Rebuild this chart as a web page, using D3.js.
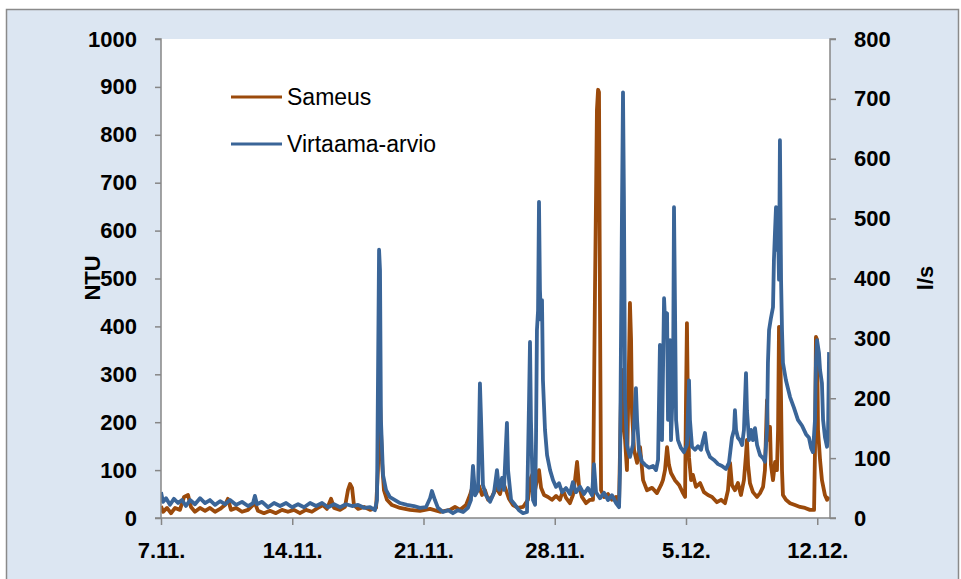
<!DOCTYPE html>
<html>
<head>
<meta charset="utf-8">
<script src="https://cdn.jsdelivr.net/npm/d3@7"></script>
<style>
  html, body { margin: 0; padding: 0; background: #ffffff; }
  svg { display: block; }
  text { font-family: "Liberation Sans", Arial, sans-serif; fill: #000; }
</style>
</head>
<body>
<svg id="chart" width="961" height="579"></svg>
<script>
// ---- data ----
const xTickDays = [0, 7, 14, 21, 28, 35];
const xTickLabels = ["7.11.", "14.11.", "21.11.", "28.11.", "5.12.", "12.12."];
const leftTicks = [0, 100, 200, 300, 400, 500, 600, 700, 800, 900, 1000];
const rightTicks = [0, 100, 200, 300, 400, 500, 600, 700, 800];
const seriesNames = ["Sameus", "Virtaama-arvio"];
const axisTitles = ["NTU", "l/s"];

// Sameus (NTU), [day since 7.11., value]
const sameus = [
[0,25],[0.11,13],[0.32,21],[0.53,10],[0.75,21],[1.01,17],[1.23,44],[1.44,48],[1.6,23],[1.81,13],
[2.08,21],[2.35,15],[2.61,21],[2.88,13],[3.15,19],[3.41,27],[3.57,40],[3.73,17],[4.0,21],[4.32,13],
[4.64,17],[5.01,31],[5.17,15],[5.49,10],[5.81,15],[6.13,10],[6.45,17],[6.77,13],[7.09,17],[7.41,10],
[7.73,17],[8.05,13],[8.37,21],[8.64,27],[8.85,19],[9.07,40],[9.23,21],[9.55,17],[9.81,23],[9.97,58],
[10.08,71],[10.19,63],[10.29,27],[10.51,19],[10.83,23],[11.15,17],[11.47,21],[11.57,100],[11.63,205],[11.68,242],
[11.73,184],[11.79,115],[11.89,58],[12.05,38],[12.32,27],[12.75,21],[13.28,17],[13.81,15],[14.35,19],[14.88,13],
[15.41,17],[15.68,23],[15.95,17],[16.27,27],[16.48,48],[16.64,69],[16.8,52],[16.96,67],[17.12,48],[17.28,58],
[17.44,38],[17.65,44],[17.87,63],[18.08,50],[18.24,75],[18.4,58],[18.56,40],[18.77,27],[19.04,21],[19.31,23],
[19.57,38],[19.73,84],[19.84,94],[19.95,58],[20.05,79],[20.16,100],[20.27,63],[20.43,48],[20.64,44],[20.85,38],
[21.07,46],[21.28,38],[21.44,58],[21.6,42],[21.81,31],[21.97,48],[22.08,79],[22.19,117],[22.29,69],[22.45,44],
[22.67,31],[22.88,38],[23.04,38],[23.09,246],[23.15,491],[23.2,664],[23.25,852],[23.31,894],[23.36,889],[23.41,455],
[23.47,58],[23.63,44],[23.84,50],[24.05,38],[24.27,44],[24.43,33],[24.53,246],[24.59,309],[24.64,205],[24.75,163],
[24.85,100],[24.96,330],[25.01,449],[25.07,372],[25.12,219],[25.23,142],[25.39,115],[25.55,148],[25.71,79],[25.92,58],
[26.19,63],[26.45,52],[26.67,69],[26.77,79],[26.88,100],[26.99,148],[27.09,111],[27.2,94],[27.41,79],[27.63,69],
[27.84,52],[27.95,44],[28.0,246],[28.05,407],[28.11,205],[28.16,127],[28.27,79],[28.37,90],[28.53,65],[28.75,73],
[28.96,54],[29.17,48],[29.39,44],[29.65,33],[29.87,38],[30.08,31],[30.24,58],[30.35,115],[30.45,69],[30.61,58],
[30.77,73],[30.93,48],[31.09,79],[31.2,132],[31.25,163],[31.31,111],[31.41,73],[31.57,54],[31.79,44],[31.95,52],
[32.11,65],[32.21,100],[32.32,246],[32.37,163],[32.48,190],[32.53,111],[32.64,79],[32.75,117],[32.85,100],[32.91,184],
[32.96,399],[33.01,392],[33.07,246],[33.12,100],[33.17,48],[33.33,38],[33.55,31],[33.81,27],[34.08,23],[34.35,21],
[34.61,17],[34.83,17],[34.88,142],[34.93,378],[34.99,372],[35.04,184],[35.15,121],[35.25,79],[35.41,48],[35.52,38],
[35.63,44]
];

// Virtaama-arvio (l/s), [day since 7.11., value]
const virtaama = [
[0,43],[0.11,27],[0.27,33],[0.48,22],[0.69,32],[0.91,25],[1.12,30],[1.33,20],[1.55,30],[1.81,23],
[2.08,33],[2.35,25],[2.61,30],[2.88,22],[3.15,28],[3.41,23],[3.68,30],[4.0,22],[4.32,27],[4.64,20],
[4.91,25],[5.01,37],[5.12,23],[5.39,27],[5.71,18],[6.03,25],[6.35,20],[6.67,25],[6.99,18],[7.31,23],
[7.63,18],[7.95,25],[8.27,20],[8.59,25],[8.91,18],[9.23,23],[9.55,18],[9.87,23],[10.19,20],[10.51,22],
[10.83,17],[11.15,18],[11.41,13],[11.52,30],[11.63,448],[11.68,414],[11.73,164],[11.84,72],[12.0,47],[12.21,35],
[12.48,30],[12.75,25],[13.12,22],[13.49,20],[13.81,17],[14.13,18],[14.35,33],[14.45,45],[14.61,30],[14.77,17],
[15.04,10],[15.31,13],[15.57,8],[15.84,13],[16.11,10],[16.37,17],[16.53,30],[16.64,87],[16.75,38],[16.91,47],
[17.01,225],[17.07,164],[17.17,55],[17.33,38],[17.55,27],[17.76,42],[17.92,80],[18.03,47],[18.19,67],[18.29,47],
[18.45,159],[18.51,80],[18.67,30],[18.88,22],[19.09,13],[19.31,8],[19.52,10],[19.63,197],[19.68,294],[19.73,164],
[19.84,30],[19.95,22],[20.0,130],[20.05,314],[20.11,347],[20.16,528],[20.21,381],[20.27,331],[20.32,364],[20.37,230],
[20.48,147],[20.59,105],[20.75,80],[20.91,63],[21.07,52],[21.23,58],[21.39,43],[21.6,50],[21.81,40],[21.97,60],
[22.13,43],[22.35,52],[22.56,40],[22.77,50],[22.99,38],[23.09,90],[23.2,43],[23.41,33],[23.63,42],[23.84,30],
[24.05,38],[24.27,25],[24.43,18],[24.48,80],[24.59,531],[24.64,711],[24.69,531],[24.75,197],[24.85,122],[25.01,102],
[25.17,122],[25.33,217],[25.39,164],[25.49,114],[25.65,94],[25.81,89],[26.03,84],[26.24,87],[26.4,80],[26.51,97],
[26.61,289],[26.67,164],[26.72,130],[26.83,367],[26.88,331],[26.99,342],[27.04,164],[27.15,297],[27.2,130],[27.31,230],
[27.36,519],[27.41,364],[27.47,164],[27.57,130],[27.73,117],[27.89,110],[28.05,122],[28.16,230],[28.21,164],[28.32,119],
[28.48,114],[28.64,120],[28.8,114],[28.91,130],[29.01,142],[29.12,114],[29.28,102],[29.49,97],[29.71,90],[29.92,87],
[30.13,82],[30.29,92],[30.45,134],[30.56,147],[30.61,180],[30.67,147],[30.77,134],[30.88,130],[30.99,122],[31.09,147],
[31.2,242],[31.25,180],[31.36,130],[31.47,147],[31.57,130],[31.68,150],[31.79,122],[31.95,105],[32.11,100],[32.21,94],
[32.32,147],[32.37,259],[32.43,314],[32.53,334],[32.64,352],[32.69,431],[32.75,481],[32.8,519],[32.85,448],[32.91,481],
[32.96,398],[33.01,631],[33.07,398],[33.12,314],[33.17,259],[33.33,230],[33.55,202],[33.76,184],[33.97,164],[34.19,154],
[34.4,140],[34.56,134],[34.67,117],[34.77,110],[34.88,164],[34.93,259],[34.99,297],[35.09,276],[35.15,247],[35.25,225],
[35.31,164],[35.41,135],[35.52,119],[35.57,130],[35.63,277]
];

// ---- layout ----
const W = 961, H = 579;
const plot = { left: 161, right: 830, top: 39, bottom: 518 };
const colors = { sameus: "#9b4a0b", virtaama: "#3a6598", axis: "#868686", bg: "#dce6f2", frame: "#8a8a8a" };

const svg = d3.select("#chart");

// outer chart area
svg.append("rect").attr("x", 0).attr("y", 0).attr("width", W).attr("height", H).attr("fill", "#ffffff");
svg.append("rect").attr("x", 6.5).attr("y", 9.5).attr("width", 952).attr("height", 600)
  .attr("fill", colors.bg).attr("stroke", colors.frame).attr("stroke-width", 1.5);

// plot area
svg.append("rect").attr("x", plot.left).attr("y", plot.top)
  .attr("width", plot.right - plot.left).attr("height", plot.bottom - plot.top).attr("fill", "#ffffff");

const x = d3.scaleLinear().domain([0, 35.68]).range([plot.left, plot.right]);
const yL = d3.scaleLinear().domain([0, 1000]).range([plot.bottom, plot.top]);
const yR = d3.scaleLinear().domain([0, 800]).range([plot.bottom, plot.top]);

svg.append("clipPath").attr("id", "clip").append("rect")
  .attr("x", plot.left).attr("y", plot.top - 2).attr("width", plot.right - plot.left).attr("height", plot.bottom - plot.top + 4);

const lineS = d3.line().x(d => x(d[0])).y(d => yL(d[1]));
const lineV = d3.line().x(d => x(d[0])).y(d => yR(d[1]));

const g = svg.append("g").attr("clip-path", "url(#clip)");
g.append("path").datum(sameus).attr("d", lineS).attr("fill", "none")
  .attr("stroke", colors.sameus).attr("stroke-width", 3.8).attr("stroke-linejoin", "round");
g.append("path").datum(virtaama).attr("d", lineV).attr("fill", "none")
  .attr("stroke", colors.virtaama).attr("stroke-width", 3.8).attr("stroke-linejoin", "round");

// axes
const fontSize = 22;
const axL = svg.append("g").attr("transform", `translate(${plot.left},0)`)
  .call(d3.axisLeft(yL).tickValues(leftTicks).tickSize(6).tickPadding(18).tickFormat(d3.format("d")));
const axR = svg.append("g").attr("transform", `translate(${plot.right},0)`)
  .call(d3.axisRight(yR).tickValues(rightTicks).tickSize(6).tickPadding(18).tickFormat(d3.format("d")));
const axB = svg.append("g").attr("transform", `translate(0,${plot.bottom})`)
  .call(d3.axisBottom(x).tickValues(xTickDays).tickSize(7).tickPadding(17)
    .tickFormat((d, i) => xTickLabels[i]));

[axL, axR, axB].forEach(a => {
  a.select(".domain").attr("stroke", colors.axis).attr("stroke-width", 1.5);
  a.selectAll(".tick line").attr("stroke", colors.axis).attr("stroke-width", 1.5);
  a.selectAll(".tick text").attr("font-size", fontSize).attr("font-weight", "bold")
    .attr("font-family", "'Liberation Sans', Arial, sans-serif").attr("fill", "#000");
});
axL.select(".domain").attr("d", `M-6,${plot.top}H0V${plot.bottom}H-6`);
axR.select(".domain").attr("d", `M6,${plot.top}H0V${plot.bottom}H6`);
axB.select(".domain").attr("d", `M${plot.left},0H${plot.right}`);

// axis titles
svg.append("text").attr("transform", `translate(100,278) rotate(-90)`).attr("text-anchor", "middle")
  .attr("font-size", fontSize).attr("font-weight", "bold").text(axisTitles[0]);
svg.append("text").attr("transform", `translate(933,278) rotate(-90)`).attr("text-anchor", "middle")
  .attr("font-size", fontSize).attr("font-weight", "bold").text(axisTitles[1]);

// legend
const legend = svg.append("g");
const legendItems = [
  { name: seriesNames[0], color: colors.sameus, y: 97 },
  { name: seriesNames[1], color: colors.virtaama, y: 144 }
];
legendItems.forEach(it => {
  legend.append("line").attr("x1", 231).attr("x2", 282).attr("y1", it.y).attr("y2", it.y)
    .attr("stroke", it.color).attr("stroke-width", 3.2);
  legend.append("text").attr("x", 287).attr("y", it.y).attr("dy", "0.35em")
    .attr("font-size", 23).text(it.name);
});
</script>
</body>
</html>
